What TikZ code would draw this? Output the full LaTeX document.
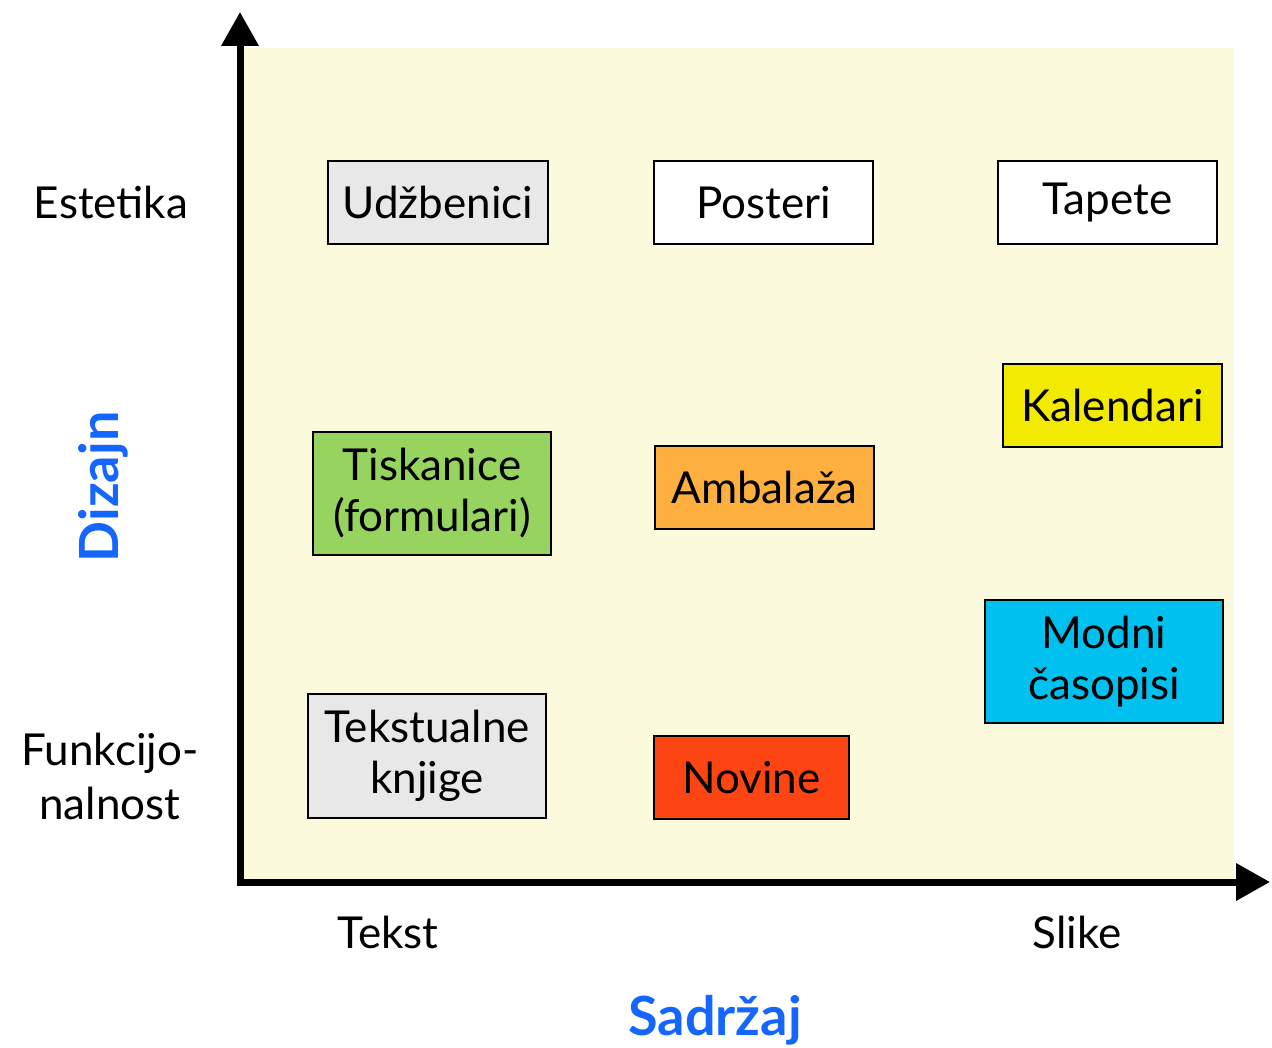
\documentclass[tikz,border=0pt]{standalone}
\usepackage{fontspec}
\setmainfont{Lato}
\usetikzlibrary{arrows.meta}
\definecolor{bgc}{HTML}{FCFADC}
\definecolor{lgray}{HTML}{E8E8E8}
\definecolor{yel}{HTML}{F2EA00}
\definecolor{grn}{HTML}{97D35F}
\definecolor{org}{HTML}{FDB040}
\definecolor{cyn}{HTML}{00C0F0}
\definecolor{redo}{HTML}{FC4512}
\definecolor{blu}{HTML}{1466FF}
\tikzset{
  itembox/.style={draw=black, line width=2pt, anchor=north west, inner sep=0pt, align=center,
    font=\fontsize{44}{51}\selectfont},
  lbl/.style={font=\fontsize{44}{54}\selectfont, align=center},
  axlbl/.style={font=\fontsize{54}{60}\selectfont\bfseries, text=blu},
  axis/.style={line width=7pt, -{Triangle[width=36pt,length=34pt]}}
}
\begin{document}
\begin{tikzpicture}[x=1pt,y=-1pt]
\useasboundingbox (0,0) rectangle (1272,1048);
\fill[bgc] (240,48) rectangle (1234,880);
\coordinate (o) at (240,882);
\coordinate (ytop) at (240,12);
\coordinate (xend) at (1270,882);
\draw[axis] (240,885.5) -- (ytop);
\draw[axis] (236.5,882) -- (xend);
\node[itembox, fill=lgray, minimum width=220pt, minimum height=83pt] (udz) at (327,160) {Udžbenici};
\node[itembox, fill=white, minimum width=219pt, minimum height=83pt] (pos) at (653,160) {Posteri};
\node[itembox, fill=white, minimum width=219pt, minimum height=83pt] (tap) at (997,160) {Tapete};
\node[itembox, fill=yel, minimum width=219pt, minimum height=83pt] (kal) at (1002,363) {Kalendari};
\node[itembox, fill=grn, minimum width=238pt, minimum height=123pt] (tis) at (312,431) {Tiskanice\\(formulari)};
\node[itembox, fill=org, minimum width=219pt, minimum height=83pt] (amb) at (654,445) {Ambalaža};
\node[itembox, fill=cyn, minimum width=238pt, minimum height=123pt] (mod) at (984,599) {Modni\\časopisi};
\node[itembox, fill=lgray, minimum width=238pt, minimum height=124pt] (tek) at (307,693) {Tekstualne\\knjige};
\node[itembox, fill=redo, minimum width=195pt, minimum height=83pt] (nov) at (653,735) {Novine};
\node[lbl] (est) at (111,202) {Estetika};
\node[lbl] (fun) at (110,776) {Funkcijo-\\nalnost};
\node[lbl] (tekst) at (388,932) {Tekst};
\node[lbl] (slike) at (1077,932) {Slike};
\node[axlbl] (sad) at (715,1020) {Sadržaj};
\node[axlbl, rotate=90] (diz) at (103,487) {Dizajn};
\end{tikzpicture}
\end{document}
